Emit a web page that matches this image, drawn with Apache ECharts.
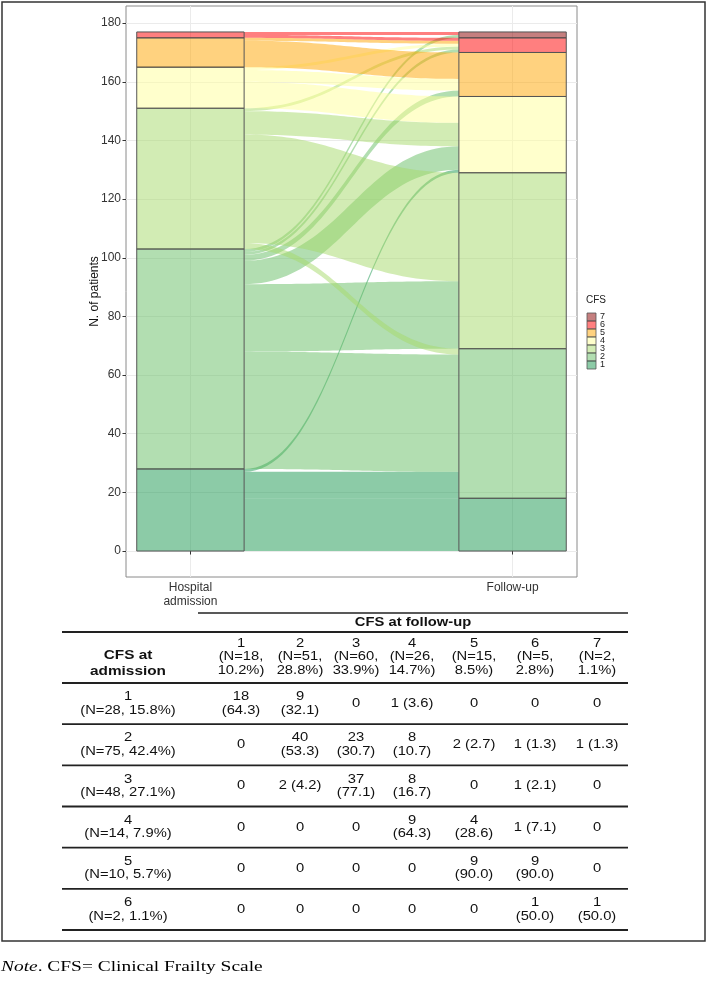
<!DOCTYPE html>
<html><head><meta charset="utf-8">
<script src="https://cdn.jsdelivr.net/npm/echarts@6/dist/echarts.min.js"></script>
<style>html,body{margin:0;padding:0;background:#fff}#c{width:709px;height:984px}</style>
</head><body><div id="c"></div>
<script>
// ---------------- data ----------------
const stageLabels = ['Hospital\nadmission', 'Follow-up'];
const cfsLevels = ['1', '2', '3', '4', '5', '6', '7'];
// patients going from admission CFS (one array per admission level) to follow-up CFS 1..7
const fromCFS1 = [18, 9, 0, 1, 0, 0, 0];
const fromCFS2 = [0, 40, 23, 8, 2, 1, 1];
const fromCFS3 = [0, 2, 37, 8, 0, 1, 0];
const fromCFS4 = [0, 0, 0, 9, 4, 1, 0];
const fromCFS5 = [0, 0, 0, 0, 9, 1, 0];
const fromCFS6 = [0, 0, 0, 0, 0, 1, 1];
const fromCFS7 = [0, 0, 0, 0, 0, 0, 0];
const yTickValues = [0, 20, 40, 60, 80, 100, 120, 140, 160, 180];
const cfsColors = ['#1a9850', '#66bd63', '#a6d96a', '#ffff99', '#ffa500', '#ff0000', '#8b0000'];

// table texts
const tableTitle = 'CFS at follow-up';
const tableRowHeader = 'CFS at\nadmission';
const colHeads = ['1\n(N=18,\n10.2%)', '2\n(N=51,\n28.8%)', '3\n(N=60,\n33.9%)', '4\n(N=26,\n14.7%)', '5\n(N=15,\n8.5%)', '6\n(N=5,\n2.8%)', '7\n(N=2,\n1.1%)'];
const rowHeads = ['1\n(N=28, 15.8%)', '2\n(N=75, 42.4%)', '3\n(N=48, 27.1%)', '4\n(N=14, 7.9%)', '5\n(N=10, 5.7%)', '6\n(N=2, 1.1%)'];
const cellsRow1 = ['18\n(64.3)', '9\n(32.1)', '0', '1 (3.6)', '0', '0', '0'];
const cellsRow2 = ['0', '40\n(53.3)', '23\n(30.7)', '8\n(10.7)', '2 (2.7)', '1 (1.3)', '1 (1.3)'];
const cellsRow3 = ['0', '2 (4.2)', '37\n(77.1)', '8\n(16.7)', '0', '1 (2.1)', '0'];
const cellsRow4 = ['0', '0', '0', '9\n(64.3)', '4\n(28.6)', '1 (7.1)', '0'];
const cellsRow5 = ['0', '0', '0', '0', '9\n(90.0)', '9\n(90.0)', '0'];
const cellsRow6 = ['0', '0', '0', '0', '0', '1\n(50.0)', '1\n(50.0)'];
const noteLabel = 'Note';
const noteText = '. CFS= Clinical Frailty Scale';

// ---------------- derived ----------------
const flowRows = [fromCFS1, fromCFS2, fromCFS3, fromCFS4, fromCFS5, fromCFS6, fromCFS7];
const cellRows = [cellsRow1, cellsRow2, cellsRow3, cellsRow4, cellsRow5, cellsRow6];
const nLev = cfsLevels.length;
const adTot = flowRows.map(r => r.reduce((a, b) => a + b, 0));
const fuTot = cfsLevels.map((_, j) => flowRows.reduce((a, r) => a + r[j], 0));
const cum = arr => { const o = []; let s = 0; arr.forEach(v => { o.push(s); s += v; }); return o; };
const adBase = cum(adTot), fuBase = cum(fuTot);

const strataData = [];
adTot.forEach((v, i) => { if (v > 0) strataData.push([1, i, adBase[i], adBase[i] + v]); });
fuTot.forEach((v, j) => { if (v > 0) strataData.push([2, j, fuBase[j], fuBase[j] + v]); });

const flowData = [];
const fuCursor = fuBase.slice();
flowRows.forEach((row, i) => {
  let l = adBase[i];
  row.forEach((v, j) => {
    if (v > 0) {
      flowData.push([i, j, l, l + v, fuCursor[j], fuCursor[j] + v]);
      l += v; fuCursor[j] += v;
    }
  });
});

const halfW = 1 / 6;
const rgba = (h, a) => { const n = parseInt(h.slice(1), 16); return `rgba(${(n >> 16) & 255},${(n >> 8) & 255},${n & 255},${a})`; };
const FONT = '"Liberation Sans", Arial, sans-serif';
const SERIF = '"Liberation Serif", "Times New Roman", serif';

function bez(xa, ya, xb, yb, t, k) {
  const c1 = xa + k * (xb - xa), c2 = xb - k * (xb - xa);
  const u = 1 - t;
  const x = u * u * u * xa + 3 * u * u * t * c1 + 3 * u * t * t * c2 + t * t * t * xb;
  const y = u * u * u * ya + 3 * u * u * t * ya + 3 * u * t * t * yb + t * t * t * yb;
  return [x, y];
}

// ---------------- graphics: legend, table, frame, note ----------------
const g = [];
g.push({ type: 'rect', shape: { x: 2, y: 2, width: 703, height: 939 }, style: { fill: null, stroke: '#333', lineWidth: 1.5 }, silent: true });
// legend
g.push({ type: 'text', x: 586, y: 300, style: { text: 'CFS', font: '10px ' + FONT, fill: '#222', align: 'left', verticalAlign: 'middle' } });
for (let k = 0; k < nLev; k++) {
  const lev = nLev - 1 - k, y = 313 + k * 8;
  g.push({ type: 'rect', shape: { x: 587, y: y, width: 9, height: 8 }, style: { fill: rgba(cfsColors[lev], 0.5), stroke: '#555', lineWidth: 0.8 } });
  g.push({ type: 'text', x: 600, y: y + 4, style: { text: cfsLevels[lev], font: '9px ' + FONT, fill: '#222', align: 'left', verticalAlign: 'middle' } });
}
// table
const SX = 1.18;
const tLeft = 62, tRight = 628, titleLeft = 198;
const colCenters = [241, 300, 356, 412, 474, 535, 597];
const labCenter = 128;
const headBottom = 683, tBottom = 930;
const rowH = (tBottom - headBottom) / 6;
const hline = (x1, x2, y, w) => g.push({ type: 'line', shape: { x1, y1: y, x2, y2: y }, style: { stroke: '#222', lineWidth: w } });
const txt = (x, y, s, opts) => g.push({ type: 'text', x, y, scaleX: SX, style: Object.assign({ text: s, font: '12.5px ' + FONT, fill: '#111', align: 'center', verticalAlign: 'middle', lineHeight: 13.5 }, opts || {}) });
hline(titleLeft, tRight, 613, 1.5);
hline(tLeft, tRight, 632, 2);
hline(tLeft, tRight, headBottom, 2);
for (let r = 1; r <= 6; r++) hline(tLeft, tRight, headBottom + r * rowH, 1.8);
txt((titleLeft + tRight) / 2, 622.5, tableTitle, { font: 'bold 12.5px ' + FONT });
txt(labCenter, 663, tableRowHeader, { font: 'bold 13px ' + FONT, lineHeight: 16 });
colHeads.forEach((s, c) => txt(colCenters[c], 657, s));
rowHeads.forEach((s, r) => txt(labCenter, headBottom + (r + 0.5) * rowH, s));
cellRows.forEach((row, r) => row.forEach((s, c) => txt(colCenters[c], headBottom + (r + 0.5) * rowH, s)));
// note
g.push({ type: 'text', x: 1, y: 967, scaleX: 1.33, style: { text: '{i|' + noteLabel + '}' + noteText, font: '14.6px ' + SERIF, fill: '#000', align: 'left', verticalAlign: 'middle', rich: { i: { fontStyle: 'italic', font: 'italic 14.6px ' + SERIF } } } });

// ---------------- chart ----------------
const chart = echarts.init(document.getElementById('c'));
chart.setOption({
  backgroundColor: '#fff',
  animation: false,
  grid: { left: 126, top: 6, width: 451, height: 571, show: true, borderColor: '#8a8a8a', borderWidth: 1, backgroundColor: 'transparent' },
  xAxis: {
    type: 'value', min: 0.8, max: 2.2, splitNumber: 1,
    axisLine: { show: false },
    axisTick: { show: true, length: 3.5, lineStyle: { color: '#333' }, customValues: [1, 2] },
    axisLabel: { customValues: [1, 2], formatter: v => stageLabels[Math.round(v) - 1], color: '#333', fontSize: 12, fontFamily: FONT, lineHeight: 13.5, margin: 4 },
    splitLine: { show: true, lineStyle: { color: '#ebebeb', width: 1 } }
  },
  yAxis: {
    type: 'value', min: -8.85, max: 185.85, splitNumber: 10,
    name: 'N. of patients', nameLocation: 'middle', nameGap: 25, nameRotate: 90, nameMoveOverlap: false,
    nameTextStyle: { color: '#111', fontSize: 12, fontFamily: FONT },
    axisLine: { show: false },
    axisTick: { show: true, length: 3.5, lineStyle: { color: '#333' }, customValues: yTickValues },
    axisLabel: { customValues: yTickValues, color: '#333', fontSize: 12, fontFamily: FONT, margin: 5 },
    splitLine: { show: true, lineStyle: { color: '#ebebeb', width: 1 } }
  },
  series: [
    {
      type: 'custom', name: 'flows', data: flowData, z: 2,
      renderItem: (params, api) => {
        const i = api.value(0), l0 = api.value(2), l1 = api.value(3), r0 = api.value(4), r1 = api.value(5);
        const xa = 1 + halfW, xb = 2 - halfW, N = 48, K = 0.45;
        const pts = [];
        for (let s = 0; s <= N; s++) pts.push(api.coord(bez(xa, l1, xb, r1, s / N, K)));
        for (let s = N; s >= 0; s--) pts.push(api.coord(bez(xa, l0, xb, r0, s / N, K)));
        return { type: 'polygon', shape: { points: pts }, style: { fill: rgba(cfsColors[i], 0.5), stroke: null } };
      }
    },
    {
      type: 'custom', name: 'strata', data: strataData, z: 3,
      renderItem: (params, api) => {
        const s = api.value(0), lev = api.value(1), y0 = api.value(2), y1 = api.value(3);
        const p0 = api.coord([s - halfW, y1]), p1 = api.coord([s + halfW, y0]);
        return { type: 'rect', shape: { x: p0[0], y: p0[1], width: p1[0] - p0[0], height: p1[1] - p0[1] }, style: { fill: rgba(cfsColors[lev], 0.5), stroke: '#555', lineWidth: 1 } };
      }
    }
  ],
  graphic: { elements: g }
});
</script></body></html>
